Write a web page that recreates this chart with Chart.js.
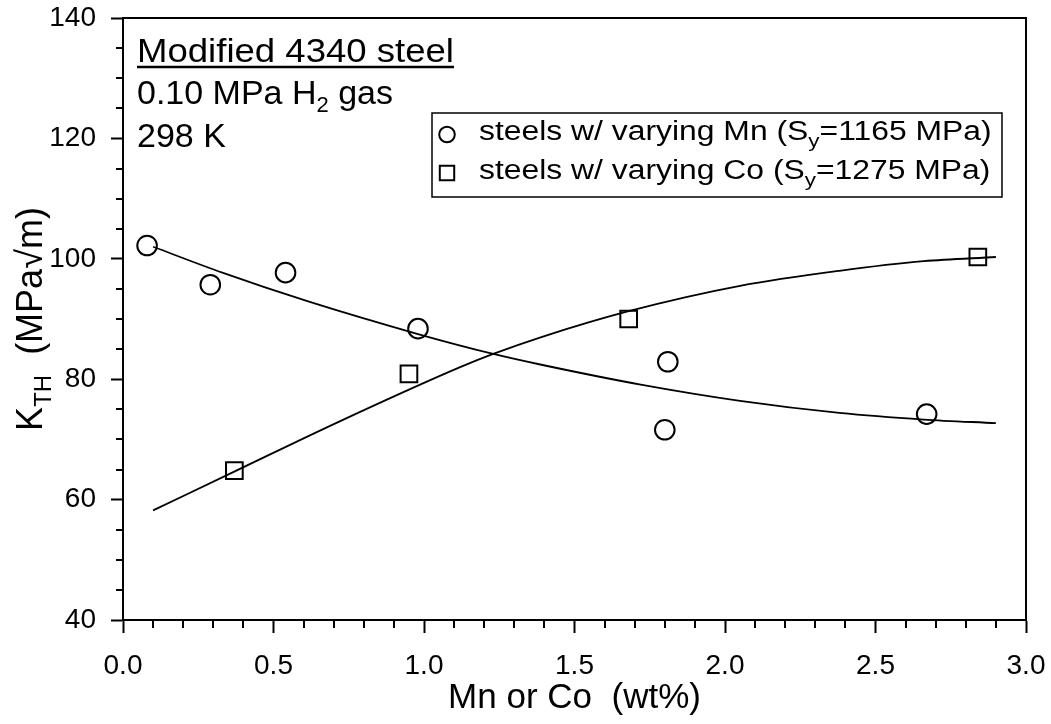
<!DOCTYPE html>
<html>
<head>
<meta charset="utf-8">
<script src="https://cdn.jsdelivr.net/npm/chart.js@4.4.1/dist/chart.umd.min.js"></script>
<style>
  html, body { margin: 0; padding: 0; background: #fff; }
  #wrap { width: 1051px; height: 724px; position: relative; }
</style>
</head>
<body>
<div id="wrap"><canvas id="c" width="1051" height="724"></canvas></div>
<script>
// Measured threshold values
const mnX = [0.08, 0.29, 0.54, 0.98, 1.81, 1.80, 2.67];
const mnY = [102.2, 95.7, 97.7, 88.4, 82.9, 71.6, 74.2];
const coX = [0.37, 0.95, 1.68, 2.84];
const coY = [64.8, 80.9, 90.0, 100.3];

// Trend curves through each series
const mnFitX = [0.10, 0.33, 0.61, 0.98, 1.23, 1.39, 1.72, 2.05, 2.38, 2.66, 2.90];
const mnFitY = [102.0, 97.7, 93.0, 87.5, 84.2, 82.4, 79.1, 76.4, 74.4, 73.3, 72.7];
const coFitX = [0.10, 0.38, 0.72, 1.12, 1.23, 1.39, 1.68, 2.05, 2.38, 2.66, 2.90];
const coFitY = [58.2, 64.9, 73.0, 82.0, 84.2, 87.0, 91.3, 95.5, 98.0, 99.6, 100.3];

// Axis ticks
const xTicks = [0.0, 0.5, 1.0, 1.5, 2.0, 2.5, 3.0];
const yTicks = [40, 60, 80, 100, 120, 140];
const xMinorStep = 0.1;
const yMinorStep = 5;

// Text
const seriesLabels = ['steels w/ varying Mn (S_{y}=1165 MPa)', 'steels w/ varying Co (S_{y}=1275 MPa)'];
const notes = ['Modified 4340 steel', '0.10 MPa H_{2} gas', '298 K'];
const xTitle = 'Mn or Co  (wt%)';
const yTitle = 'K_{TH}  (MPa\u221Am)';

const FONT = '"Liberation Sans", Arial, Helvetica, sans-serif';
const pts = (xs, ys) => xs.map((x, i) => ({ x: x, y: ys[i] }));

// Split "a_{b}c" into normal / subscript runs
function parseRich(s) {
  const parts = [];
  const re = /_\{([^}]*)\}/g;
  let last = 0, m;
  while ((m = re.exec(s))) {
    if (m.index > last) parts.push({ t: s.slice(last, m.index), sub: false });
    parts.push({ t: m[1], sub: true });
    last = re.lastIndex;
  }
  if (last < s.length) parts.push({ t: s.slice(last), sub: false });
  return parts;
}
function richWidth(ctx, s, size, subSize) {
  let w = 0;
  for (const p of parseRich(s)) {
    ctx.font = (p.sub ? subSize : size) + 'px ' + FONT;
    w += ctx.measureText(p.t).width;
  }
  return w;
}
// draws rich text, optionally stretched horizontally by sx
function drawRich(ctx, s, x, y, size, subSize, subShift, sx) {
  sx = sx || 1;
  ctx.save();
  ctx.translate(x, y);
  ctx.scale(sx, 1);
  let cx = 0;
  for (const p of parseRich(s)) {
    ctx.font = (p.sub ? subSize : size) + 'px ' + FONT;
    ctx.fillText(p.t, cx, p.sub ? subShift : 0);
    cx += ctx.measureText(p.t).width;
  }
  ctx.restore();
  return cx * sx;
}

// drop the label overhang padding so the plot frame sits where the layout padding puts it
function noOverhang(s) {
  s.paddingTop = 0; s.paddingBottom = 0; s.paddingLeft = 0; s.paddingRight = 0;
}

const decor = {
  id: 'decor',
  afterDraw(chart) {
    const ctx = chart.ctx;
    const area = chart.chartArea;
    const xs = chart.scales.x, ys = chart.scales.y;
    ctx.save();
    ctx.strokeStyle = '#000';
    ctx.fillStyle = '#000';
    ctx.lineWidth = 2;

    // top and right frame
    ctx.beginPath();
    ctx.moveTo(area.left, area.top);
    ctx.lineTo(area.right, area.top);
    ctx.lineTo(area.right, area.bottom);
    ctx.stroke();

    // minor ticks
    ctx.beginPath();
    for (let v = yTicks[0] + yMinorStep; v < yTicks[yTicks.length - 1]; v += yMinorStep) {
      if (yTicks.includes(v)) continue;
      const py = Math.round(ys.getPixelForValue(v));
      ctx.moveTo(area.left - 7, py);
      ctx.lineTo(area.left, py);
    }
    for (let i = 1; i < Math.round((xTicks[xTicks.length - 1] - xTicks[0]) / xMinorStep); i++) {
      if (i % 5 === 0) continue;
      const px = Math.round(xs.getPixelForValue(xTicks[0] + i * xMinorStep));
      ctx.moveTo(px, area.bottom);
      ctx.lineTo(px, area.bottom + 8);
    }
    ctx.stroke();

    // notes, top left
    ctx.textAlign = 'left';
    ctx.textBaseline = 'alphabetic';
    const nx = 137;
    const w0 = drawRich(ctx, notes[0], nx, 62, 34, 22, 8, 1.075);
    ctx.lineWidth = 2.5;
    ctx.beginPath();
    ctx.moveTo(nx, 67);
    ctx.lineTo(nx + w0, 67);
    ctx.stroke();
    drawRich(ctx, notes[1], nx, 104, 34, 22, 8);
    drawRich(ctx, notes[2], nx, 147, 34, 22, 8);

    // y axis title, rotated
    const tw = richWidth(ctx, yTitle, 36, 24);
    const cy = (area.top + area.bottom) / 2;
    ctx.save();
    ctx.translate(42, cy);
    ctx.rotate(-Math.PI / 2);
    drawRich(ctx, yTitle, -tw / 2, 0, 36, 24, 9);
    ctx.restore();

    // legend box
    const bx = 432, by = 113, bw = 570, bh = 84;
    ctx.lineWidth = 1.5;
    ctx.strokeRect(bx, by, bw, bh);
    const markerY = [134.5, 173];
    const textY = [140, 178.5];
    chart.data.datasets.slice(0, 2).forEach((ds, i) => {
      ctx.lineWidth = 2;
      ctx.strokeStyle = '#000';
      ctx.fillStyle = 'rgba(0,0,0,0)';
      Chart.helpers.drawPoint(ctx, {
        pointStyle: ds.pointStyle,
        radius: ds.pointStyle === 'rect' ? 10.2 : 7.8,
        borderWidth: 2
      }, 447, markerY[i]);
      ctx.fillStyle = '#000';
      drawRich(ctx, ds.label, 479, textY[i], 27, 19, 7, 1.18);
    });
    ctx.restore();
  }
};

const tickFont = { family: FONT, size: 28 };

new Chart(document.getElementById('c'), {
  type: 'scatter',
  data: {
    datasets: [
      {
        label: seriesLabels[0],
        data: pts(mnX, mnY),
        pointStyle: 'circle',
        pointRadius: 9.8,
        pointBorderWidth: 2,
        borderColor: '#000',
        pointBorderColor: '#000',
        pointBackgroundColor: 'rgba(0,0,0,0)',
        showLine: false
      },
      {
        label: seriesLabels[1],
        data: pts(coX, coY),
        pointStyle: 'rect',
        pointRadius: 11.8,
        pointBorderWidth: 2,
        borderColor: '#000',
        pointBorderColor: '#000',
        pointBackgroundColor: 'rgba(0,0,0,0)',
        showLine: false
      },
      {
        label: 'Mn trend',
        type: 'line',
        data: pts(mnFitX, mnFitY),
        borderColor: '#000',
        borderWidth: 1.8,
        pointRadius: 0,
        fill: false,
        cubicInterpolationMode: 'monotone'
      },
      {
        label: 'Co trend',
        type: 'line',
        data: pts(coFitX, coFitY),
        borderColor: '#000',
        borderWidth: 1.8,
        pointRadius: 0,
        fill: false,
        cubicInterpolationMode: 'monotone'
      }
    ]
  },
  options: {
    responsive: false,
    animation: false,
    events: [],
    layout: { padding: { top: 18, right: 25, left: 0, bottom: 0 } },
    plugins: { legend: { display: false }, tooltip: { enabled: false } },
    scales: {
      x: {
        type: 'linear',
        min: xTicks[0],
        max: xTicks[xTicks.length - 1],
        afterBuildTicks: s => { s.ticks = xTicks.map(v => ({ value: v })); },
        afterFit: s => { s.height = 104; noOverhang(s); },
        ticks: {
          autoSkip: false, maxRotation: 0, padding: 16,
          color: '#000', font: tickFont,
          callback: v => Number(v).toFixed(1)
        },
        grid: { drawOnChartArea: false, tickLength: 13, tickWidth: 2, tickColor: '#000' },
        border: { display: true, width: 2, color: '#000' },
        title: {
          display: true, text: xTitle, color: '#000',
          font: { family: FONT, size: 35 }, padding: { top: 0, bottom: 5 }
        }
      },
      y: {
        type: 'linear',
        min: yTicks[0],
        max: yTicks[yTicks.length - 1],
        afterBuildTicks: s => { s.ticks = yTicks.map(v => ({ value: v })); },
        afterFit: s => { s.width = 123; noOverhang(s); },
        ticks: {
          autoSkip: false, padding: 15, color: '#000', font: tickFont,
          callback: v => String(v)
        },
        grid: { drawOnChartArea: false, tickLength: 12, tickWidth: 2, tickColor: '#000' },
        border: { display: true, width: 2, color: '#000' },
        title: { display: false }
      }
    }
  },
  plugins: [decor]
});
</script>
</body>
</html>
